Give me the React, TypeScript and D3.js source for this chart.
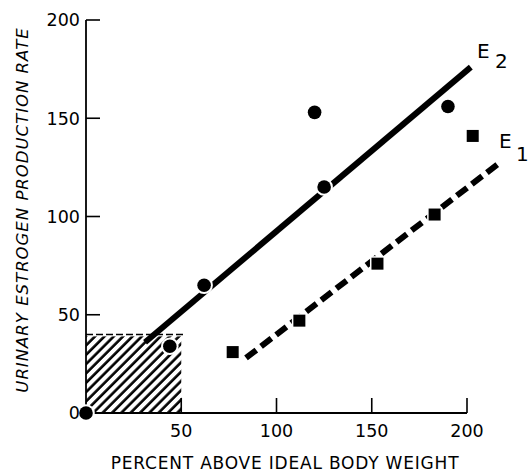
import React from "react";
import * as d3 from "d3";

const xTicks = [50, 100, 150, 200];
const yTicks = [0, 50, 100, 150, 200];
const e2X = [0, 44, 62, 120, 125, 190];
const e2Y = [0, 34, 65, 153, 115, 156];
const e1X = [77, 112, 153, 183, 203];
const e1Y = [31, 47, 76, 101, 141];
const e2LineX = [31, 202];
const e2LineY = [36, 176];
const e1LineX = [84, 218];
const e1LineY = [28, 128];
const normalX = [0, 50];
const normalY = [0, 40];

export default function App() {
  const W = 530, H = 476;
  const x = d3.scaleLinear().domain([0, 200]).range([86, 467]);
  const y = d3.scaleLinear().domain([0, 200]).range([413, 20]);
  const font = "'DejaVu Sans', 'Liberation Sans', sans-serif";
  const line = d3.line<[number, number]>().x(d => x(d[0])).y(d => y(d[1]));
  const e2pts: [number, number][] = e2LineX.map((v, i) => [v, e2LineY[i]]);
  const e1pts: [number, number][] = e1LineX.map((v, i) => [v, e1LineY[i]]);
  return (
    <svg width={W} height={H} style={{ position: "absolute", left: 0, top: 0, background: "#fff" }}>
      <defs>
        <pattern id="hatch" patternUnits="userSpaceOnUse" width="6.6" height="8" patternTransform="rotate(45)">
          <line x1="1.5" y1="0" x2="1.5" y2="8" stroke="#000" strokeWidth="2.6" />
        </pattern>
      </defs>
      {/* hatched normal region */}
      <rect x={x(normalX[0])} y={y(normalY[1]) + 2} width={x(normalX[1]) - x(normalX[0])} height={y(normalY[0]) - y(normalY[1]) - 2} fill="url(#hatch)" />
      <line x1={x(normalX[0])} x2={x(normalX[1]) + 2} y1={y(normalY[1])} y2={y(normalY[1])} stroke="#000" strokeWidth={1.5} strokeDasharray="7 3" />
      {/* axes */}
      <line x1={x(0)} x2={x(0)} y1={y(0)} y2={y(200)} stroke="#000" strokeWidth={1.8} />
      <line x1={x(0)} x2={x(200)} y1={y(0)} y2={y(0)} stroke="#000" strokeWidth={1.8} />
      {yTicks.filter(t => t > 0).map(t => (
        <line key={"yt" + t} x1={x(0)} x2={x(0) + 14} y1={y(t)} y2={y(t)} stroke="#000" strokeWidth={1.6} />
      ))}
      {xTicks.map(t => (
        <line key={"xt" + t} x1={x(t)} x2={x(t)} y1={y(0)} y2={y(0) - 15} stroke="#000" strokeWidth={1.6} />
      ))}
      <text x={285} y={469} textAnchor="middle" fontFamily={font} fontSize={17} letterSpacing={0.8}>PERCENT ABOVE IDEAL BODY WEIGHT</text>
      <text transform="translate(28,210) rotate(-90)" textAnchor="middle" fontFamily={font} fontSize={16.5} fontStyle="italic" letterSpacing={1.0}>URINARY ESTROGEN PRODUCTION RATE</text>
      {/* lines */}
      <path d={line(e2pts) || ""} stroke="#000" strokeWidth={6} fill="none" />
      <path d={line(e1pts) || ""} stroke="#000" strokeWidth={6} fill="none" strokeDasharray="13 6" />
      {/* points */}
      {e2X.map((v, i) => (
        <circle key={"c" + i} cx={x(v)} cy={y(e2Y[i])} r={6.8} fill="#000" stroke="#fff" strokeWidth={4} paintOrder="stroke" />
      ))}
      {e1X.map((v, i) => (
        <rect key={"s" + i} x={x(v) - 6} y={y(e1Y[i]) - 6} width={12} height={12} fill="#000" stroke="#fff" strokeWidth={3} paintOrder="stroke" />
      ))}
      {yTicks.map(t => (
        <text key={"yl" + t} x={x(0) - 6} y={y(t)} dy="0.36em" textAnchor="end" fontFamily={font} fontSize={17.5}>{t}</text>
      ))}
      {xTicks.map(t => (
        <text key={"xl" + t} x={x(t)} y={y(0) + 24} textAnchor="middle" fontFamily={font} fontSize={17.5}>{t}</text>
      ))}
      {/* labels */}
      <text x={477} y={58} fontFamily={font} fontSize={20}>E</text>
      <text x={495} y={68} fontFamily={font} fontSize={20}>2</text>
      <text x={499} y={148} fontFamily={font} fontSize={20}>E</text>
      <text x={516} y={161} fontFamily={font} fontSize={20}>1</text>
    </svg>
  );
}
